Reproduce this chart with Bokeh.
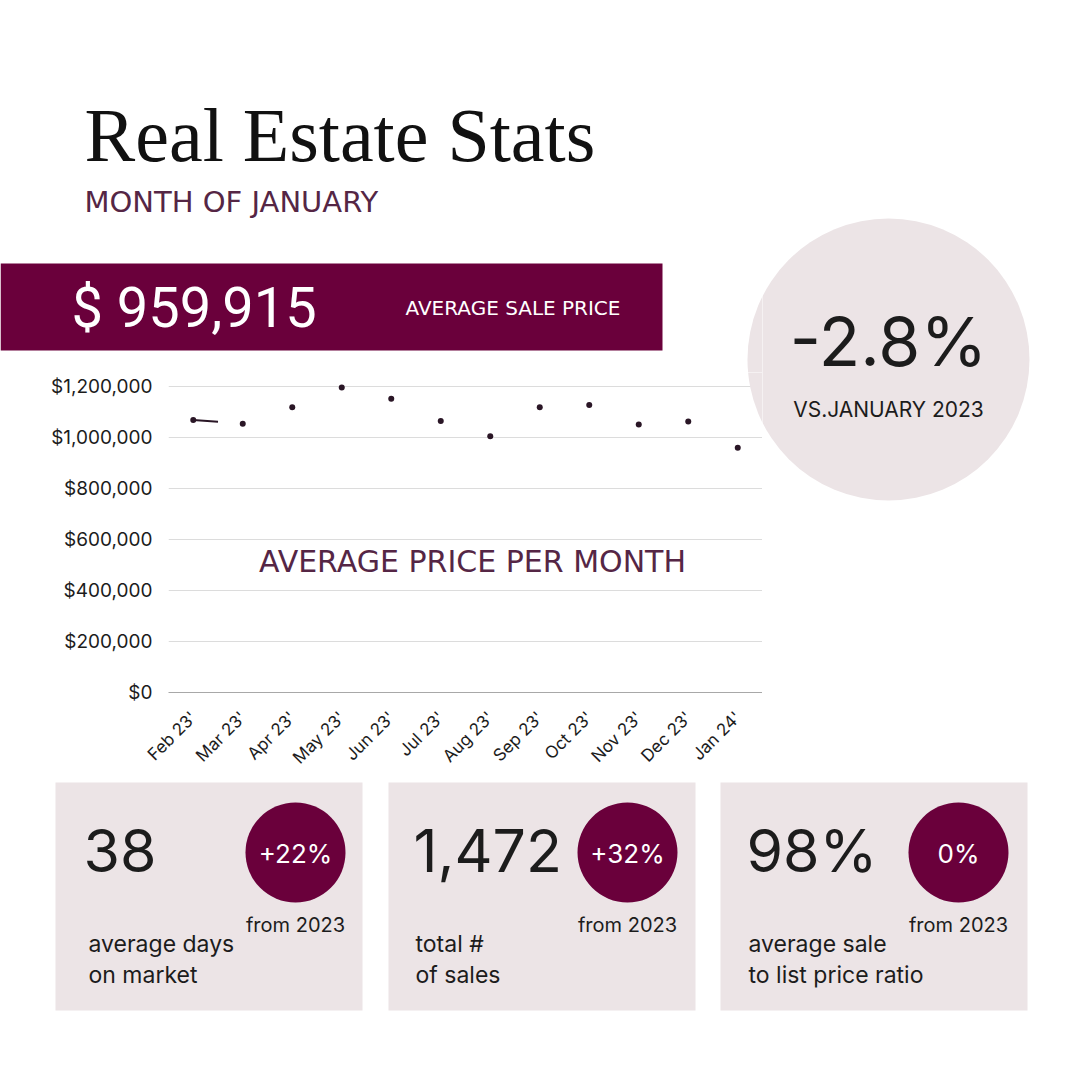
import math
from bokeh.plotting import figure
from bokeh.layouts import row, column
from bokeh.models import Range1d, FixedTicker, NumeralTickFormatter, ColumnDataSource
from bokeh.core.properties import value
from bokeh.embed import file_html
from bokeh.resources import INLINE

# ---------------- data ----------------
months = ["Feb 23'", "Mar 23'", "Apr 23'", "May 23'", "Jun 23'", "Jul 23'",
          "Aug 23'", "Sep 23'", "Oct 23'", "Nov 23'", "Dec 23'", "Jan 24'"]
avg_price = [1069000, 1054000, 1119000, 1196000, 1152000, 1065000,
             1005000, 1119000, 1127000, 1051000, 1063000, 959915]
y_ticks = [0, 200000, 400000, 600000, 800000, 1000000, 1200000]

headline_price = "$ 959,915"
yoy_change = "-2.8%"
stat_values = ["38", "1,472", "98%"]
stat_changes = ["+22%", "+32%", "0%"]
stat_labels = [["average days", "on market"], ["total #", "of sales"],
               ["average sale", "to list price ratio"]]

BURGUNDY = "#6a003b"
LIGHT = "#ece4e6"
PURPLE = "#552645"
DARK = "#1c1c1c"
POINT = "#2a1626"

TOTAL = 1072
SPLIT_X = 762      # right edge of chart frame
TOP_H = 372        # height of header panel
CHART_BOTTOM = 780
FL, FB = 168, 692  # chart frame left / baseline
GRID_TOP_Y = 386   # pixel row of the top grid line
BASE_K = 0.37      # baseline correction for svg text

# big circle geometry
CX, CY, CR = 888, 359, 141


def panel(x0, x1, y0, y1):
    f = figure(width=x1 - x0, height=y1 - y0, output_backend="svg",
               toolbar_location=None, x_range=Range1d(x0, x1),
               y_range=Range1d(y1, y0), min_border=0,
               x_axis_location=None, y_axis_location=None)
    f.grid.visible = False
    f.outline_line_color = None
    f.background_fill_color = None
    f.border_fill_color = "white"
    return f


def txt(f, x, y, s, size, color=DARK, font="Inter", align="left", **kw):
    f.text(x=[x], y=[y - BASE_K * size], text=[s], text_font=value(font),
           text_font_size=value(f"{size}px"), text_color=color,
           text_align=align, text_baseline="alphabetic", **kw)


# ---------- header panel (left part) ----------
A = panel(0, SPLIT_X, 0, TOP_H)
A.circle(x=[CX], y=[CY], radius=CR, fill_color=LIGHT, line_color=None)
txt(A, 84, 163, "Real Estate Stats", 76, color="#111111", font="Liberation Serif")
txt(A, 84, 212, "MONTH OF JANUARY", 29, color=PURPLE, font="DejaVu Sans")
A.quad(left=[0], right=[662], top=[263], bottom=[350], fill_color=BURGUNDY, line_color=None)
txt(A, 71, 328, headline_price, 56, color="white", font="Roboto")
txt(A, 405, 315, "AVERAGE SALE PRICE", 20, color="white", font="DejaVu Sans")

# ---------- chart panel ----------
y_end = 1200000 * (FB - TOP_H) / (FB - GRID_TOP_Y)
B = figure(width=SPLIT_X, height=CHART_BOTTOM - TOP_H, output_backend="svg",
           toolbar_location=None, x_range=Range1d(-0.5, len(months) - 0.5),
           y_range=Range1d(0, y_end),
           min_border_left=FL, min_border_right=0, min_border_top=0,
           min_border_bottom=CHART_BOTTOM - FB)
B.outline_line_color = None
B.background_fill_color = "white"
B.border_fill_color = "white"
B.extra_x_ranges = {"px": Range1d(FL, SPLIT_X)}
B.extra_y_ranges = {"px": Range1d(FB, TOP_H)}

B.xaxis.ticker = FixedTicker(ticks=list(range(len(months))))
B.xaxis.major_label_overrides = {i: m for i, m in enumerate(months)}
B.xaxis.major_label_orientation = math.pi / 4
B.xaxis.major_tick_line_color = None
B.xaxis.major_tick_out = 0
B.xaxis.minor_tick_line_color = None
B.xaxis.axis_line_color = "#a8a8a8"
B.xaxis.major_label_text_font = "Inter"
B.xaxis.major_label_text_font_size = "17px"
B.xaxis.major_label_text_color = DARK
B.xaxis.major_label_standoff = 22

B.yaxis.ticker = FixedTicker(ticks=y_ticks)
B.yaxis.formatter = NumeralTickFormatter(format="$0,0")
B.yaxis.axis_line_color = None
B.yaxis.major_tick_line_color = None
B.yaxis.major_tick_out = 0
B.yaxis.minor_tick_line_color = None
B.yaxis.major_label_text_font = "Inter"
B.yaxis.major_label_text_font_size = "19px"
B.yaxis.major_label_text_color = DARK
B.yaxis.major_label_standoff = 16

B.xgrid.grid_line_color = None
B.ygrid.grid_line_color = "#dcdcdc"
B.ygrid.ticker = FixedTicker(ticks=y_ticks[1:])

idx = list(range(len(months)))
src = ColumnDataSource(dict(x=idx, y=avg_price))
seg = ColumnDataSource(dict(x=[0, 0.5], y=[avg_price[0], (avg_price[0] + avg_price[1]) / 2]))
B.line("x", "y", source=seg, line_color=POINT, line_width=2)
B.scatter("x", "y", source=src, size=6, fill_color=POINT, line_color=None)
B.circle(x=[CX], y=[CY], radius=CR, fill_color=LIGHT, line_color=None,
         x_range_name="px", y_range_name="px")
txt(B, 472, 572, "AVERAGE PRICE PER MONTH", 30, color=PURPLE, font="DejaVu Sans",
    align="center", x_range_name="px", y_range_name="px")

# ---------- right panel (full height) ----------
C = panel(SPLIT_X, TOTAL, 0, CHART_BOTTOM)
C.circle(x=[CX], y=[CY], radius=CR, fill_color=LIGHT, line_color=None)
txt(C, CX, 366, yoy_change, 68, align="center")
txt(C, CX, 417, "VS.JANUARY 2023", 21, align="center")

# ---------- bottom cards ----------
D = panel(0, TOTAL, CHART_BOTTOM, TOTAL)
lefts = [55, 388, 720]
value_x = [83, 413, 746]
label_x = [88, 415, 748]
circ_x = [295, 627, 958]
D.quad(left=lefts, right=[l + 307 for l in lefts], top=[782] * 3, bottom=[1010] * 3,
       fill_color=LIGHT, line_color=None)
D.circle(x=circ_x, y=[852] * 3, radius=50, fill_color=BURGUNDY, line_color=None)
for i in range(3):
    txt(D, value_x[i], 872, stat_values[i], 59)
    txt(D, circ_x[i], 863, stat_changes[i], 26, color="white", align="center")
    txt(D, circ_x[i], 932, "from 2023", 20, align="center")
    txt(D, label_x[i], 952, stat_labels[i][0], 23)
    txt(D, label_x[i], 983, stat_labels[i][1], 23)

layout = column(row(column(row(A), B), C), D)
open("out.html", "w").write(file_html(layout, INLINE))
